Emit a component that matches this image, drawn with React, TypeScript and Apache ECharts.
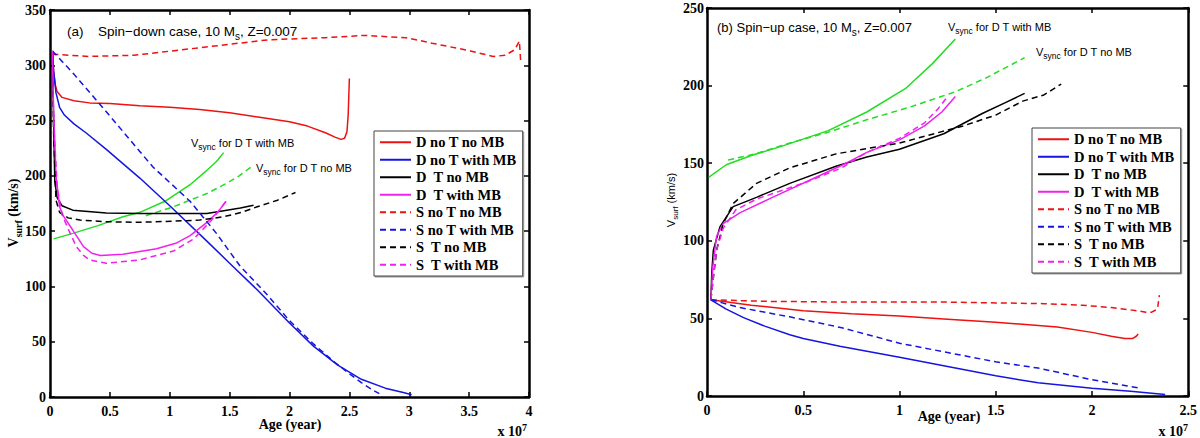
import React, { useRef, useEffect } from 'react'
import * as echarts from 'echarts'

// ages are in units of 1e7 yr, velocities in km/s

// ---- panel (a): spin-down case ----
const aDnoTnoMB = [[0.02,313],[0.03,295],[0.045,282],[0.06,276],[0.1,271],[0.2,268],[0.33,266],[0.5,265.5],[0.75,263.5],[1.0,262],[1.25,260],[1.5,257],[1.75,253],[2.0,249],[2.15,245],[2.3,239],[2.38,235],[2.43,233],[2.46,234],[2.48,240],[2.49,255],[2.5,288]]
const aDnoTwithMB = [[0.02,313],[0.03,295],[0.05,275],[0.08,262],[0.12,255],[0.2,247],[0.3,239],[0.47,224],[0.75,198],[1.0,173],[1.31,141],[1.5,121],[1.73,97],[2.0,67],[2.2,46],[2.4,29],[2.6,16],[2.8,8],[2.95,4],[3.02,2]]
const aDTnoMB = [[0.02,313],[0.03,250],[0.04,195],[0.06,180],[0.1,173],[0.19,169],[0.47,166.5],[0.75,166],[1.0,166],[1.31,166],[1.45,168.5],[1.59,171],[1.7,173.5]]
const aDTwithMB = [[0.02,313],[0.03,260],[0.05,200],[0.08,172],[0.11,164],[0.19,151],[0.28,136],[0.35,130],[0.42,128],[0.61,129],[0.89,134],[1.05,139],[1.17,146],[1.3,157],[1.4,167],[1.47,177]]
const aSnoTnoMB = [[0.02,310],[0.32,308],[0.7,309],[1.02,313],[1.5,319],[1.82,323],[2.3,325],[2.62,327],[2.97,325],[3.19,320],[3.51,313],[3.7,308],[3.8,309],[3.88,314],[3.92,322],[3.93,304]]
const aSnoTwithMB = [[0.02,313],[0.2,292],[0.47,258],[0.75,222],[0.86,208],[1.17,177],[1.39,148],[1.59,118],[1.81,93],[2.0,69],[2.2,48],[2.36,33],[2.5,21],[2.6,13],[2.7,6],[2.75,3]]
const aSTnoMB = [[0.02,313],[0.03,240],[0.05,178],[0.08,167],[0.15,162],[0.25,160],[0.47,158.5],[0.75,158],[1.03,159],[1.25,160],[1.45,163],[1.6,167],[1.73,172],[1.9,178],[2.05,185]]
const aSTwithMB = [[0.02,313],[0.03,250],[0.06,190],[0.1,165],[0.16,150],[0.22,136],[0.28,128],[0.33,124],[0.47,121],[0.75,124],[1.03,132],[1.2,143],[1.35,160],[1.47,177]]
const aVsyncWithMB = [[0.03,143],[0.19,148],[0.4,155],[0.61,163],[0.75,167],[0.96,177],[1.17,192],[1.3,204],[1.39,213],[1.45,221]]
const aVsyncNoMB = [[0.8,164],[1.03,172],[1.31,184],[1.47,193],[1.58,200],[1.68,208]]

// ---- panel (b): spin-up case ----
const bDnoTnoMB = [[0.02,62],[0.23,58.5],[0.5,55],[0.75,53],[1.0,51.5],[1.25,49.5],[1.5,47.5],[1.82,44.5],[2.0,41],[2.1,38.5],[2.17,37],[2.21,37],[2.23,38.5],[2.24,40]]
const bDnoTwithMB = [[0.02,62],[0.1,56],[0.19,50.5],[0.3,45],[0.43,39.5],[0.5,37],[0.69,32],[1.0,25],[1.25,19],[1.5,13],[1.72,8.5],[2.0,5],[2.2,3],[2.38,1]]
const bDTnoMB = [[0.02,62],[0.025,80],[0.033,94],[0.067,109],[0.136,122],[0.257,128],[0.43,137],[0.67,148],[0.83,154],[1.0,159],[1.23,169],[1.43,182],[1.55,189],[1.65,195]]
const bDTwithMB = [[0.02,62],[0.03,83],[0.05,103],[0.084,111],[0.17,118],[0.34,128],[0.55,140],[0.69,148],[0.83,157],[1.0,165],[1.13,174],[1.22,183],[1.29,193]]
const bSnoTnoMB = [[0.02,62],[0.3,61],[0.75,60.5],[1.25,60.5],[1.5,60],[1.75,59.5],[1.95,58.5],[2.1,57],[2.2,55.5],[2.28,54],[2.31,54],[2.34,56],[2.35,65]]
const bSnoTwithMB = [[0.02,62],[0.17,57],[0.43,51],[0.7,44],[1.0,34],[1.25,28],[1.5,22],[1.72,18],[2.0,10.5],[2.25,5]]
const bSTnoMB = [[0.02,62],[0.03,73],[0.05,94],[0.084,111],[0.136,124],[0.257,137],[0.43,147],[0.67,156],[1.0,163],[1.33,174],[1.5,181],[1.64,190],[1.75,194],[1.84,201]]
const bSTwithMB = [[0.02,62],[0.03,73],[0.05,94],[0.084,108],[0.15,120],[0.26,127],[0.52,138],[0.7,147],[0.83,157],[1.0,166],[1.13,176],[1.2,185],[1.25,193]]
const bVsyncWithMB = [[0.01,141],[0.1,149],[0.23,155],[0.39,161],[0.63,171],[0.83,183],[1.03,198],[1.17,214],[1.29,230]]
const bVsyncNoMB = [[0.11,152],[0.25,156],[0.43,163],[0.63,170],[0.83,178],[1.05,186],[1.29,196],[1.45,205],[1.62,216],[1.65,218]]

const legendNames = ['D no T no MB', 'D no T with MB', 'D  T no MB', 'D  T with MB', 'S no T no MB', 'S no T with MB', 'S  T no MB', 'S  T with MB']

const SERIF = "'Liberation Serif', 'Times New Roman', serif"
const SANS = "'Liberation Sans', Arial, sans-serif"
const RED = '#ee1111'
const BLUE = '#1515e0'
const BLACK = '#000000'
const MAGENTA = '#ee22ee'
const GREEN = '#22dd22'

function line(name, data, color, dashed, idx) {
  return {
    name,
    type: 'line',
    data,
    xAxisIndex: idx,
    yAxisIndex: idx,
    symbol: 'none',
    silent: true,
    lineStyle: { color, width: 1.5, type: dashed ? [6, 4] : 'solid' },
    itemStyle: { color },
  }
}

function axis(extra) {
  return {
    type: 'value',
    axisLine: { show: true, onZero: false, lineStyle: { color: '#000', width: 2.5 } },
    axisTick: { show: true, inside: true, length: 5, lineStyle: { color: '#000', width: 1.5 } },
    splitLine: { show: false },
    axisLabel: { color: '#000', fontFamily: SERIF, fontWeight: 'bold', fontSize: 14 },
    ...extra,
  }
}

function legend(left, top) {
  return {
    data: legendNames,
    orient: 'vertical',
    left,
    top,
    itemWidth: 31,
    itemHeight: 10,
    itemGap: 1,
    padding: [3, 6, 3, 5],
    backgroundColor: '#fff',
    borderColor: '#444',
    borderWidth: 1,
    shadowColor: 'rgba(0,0,0,0.4)',
    shadowOffsetX: 1,
    shadowOffsetY: 1,
    selectedMode: false,
    itemStyle: { opacity: 0 },
    textStyle: { fontFamily: SERIF, fontWeight: 'bold', fontSize: 14.5, color: '#000', lineHeight: 16.5 },
  }
}

const sub = { fontSize: 8.5, lineHeight: 8, verticalAlign: 'bottom' }

function note(x, y, text) {
  return {
    type: 'text',
    x,
    y,
    style: {
      text,
      verticalAlign: 'middle',
      fill: '#000',
      fontFamily: SANS,
      fontSize: 11,
      rich: { n: { fontFamily: SANS, fontSize: 11, lineHeight: 16 }, s: { ...sub, fontFamily: SANS } },
    },
  }
}

function titleText(x, y, text, size) {
  return {
    type: 'text',
    x,
    y,
    style: {
      text,
      verticalAlign: 'middle',
      fill: '#000',
      rich: { n: { fontFamily: SANS, fontSize: size, lineHeight: 20 }, s: { fontFamily: SANS, fontSize: 10, lineHeight: 9, verticalAlign: 'bottom' } },
    },
  }
}

function SpinChart() {
  const chartRef = useRef(null)

  useEffect(() => {
    document.body.style.margin = '0'
    const chart = echarts.init(chartRef.current, null, { renderer: 'svg' })

    const labelStyle = axis({}).axisLabel
    const option = {
      animation: false,
      backgroundColor: '#fff',
      grid: [
        { left: 50, top: 10, width: 479, height: 387 },
        { left: 707, top: 8, width: 484, height: 388 },
      ],
      xAxis: [
        axis({ gridIndex: 0, min: 0, max: 4, interval: 0.5, axisLabel: { ...labelStyle, margin: 7 } }),
        axis({ gridIndex: 0, min: 0, max: 4, interval: 0.5, position: 'top', axisLabel: { show: false } }),
        axis({ gridIndex: 1, min: 0, max: 2.5, interval: 0.5, axisLabel: { ...labelStyle, margin: 7 } }),
        axis({ gridIndex: 1, min: 0, max: 2.5, interval: 0.5, position: 'top', axisLabel: { show: false } }),
      ],
      yAxis: [
        axis({ gridIndex: 0, min: 0, max: 350, interval: 50, axisLabel: { ...labelStyle, margin: 4 } }),
        axis({ gridIndex: 0, min: 0, max: 350, interval: 50, position: 'right', axisLabel: { show: false } }),
        axis({ gridIndex: 1, min: 0, max: 250, interval: 50, axisLabel: { ...labelStyle, margin: 3 } }),
        axis({ gridIndex: 1, min: 0, max: 250, interval: 50, position: 'right', axisLabel: { show: false } }),
      ],
      legend: [legend(374, 131), legend(1032, 128)],
      series: [
        line('Vsync for D T with MB (a)', aVsyncWithMB, GREEN, false, 0),
        line('Vsync for D T no MB (a)', aVsyncNoMB, GREEN, true, 0),
        line(legendNames[0], aDnoTnoMB, RED, false, 0),
        line(legendNames[1], aDnoTwithMB, BLUE, false, 0),
        line(legendNames[2], aDTnoMB, BLACK, false, 0),
        line(legendNames[3], aDTwithMB, MAGENTA, false, 0),
        line(legendNames[4], aSnoTnoMB, RED, true, 0),
        line(legendNames[5], aSnoTwithMB, BLUE, true, 0),
        line(legendNames[6], aSTnoMB, BLACK, true, 0),
        line(legendNames[7], aSTwithMB, MAGENTA, true, 0),

        line('Vsync for D T with MB (b)', bVsyncWithMB, GREEN, false, 2),
        line('Vsync for D T no MB (b)', bVsyncNoMB, GREEN, true, 2),
        line(legendNames[0], bDnoTnoMB, RED, false, 2),
        line(legendNames[1], bDnoTwithMB, BLUE, false, 2),
        line(legendNames[2], bDTnoMB, BLACK, false, 2),
        line(legendNames[3], bDTwithMB, MAGENTA, false, 2),
        line(legendNames[4], bSnoTnoMB, RED, true, 2),
        line(legendNames[5], bSnoTwithMB, BLUE, true, 2),
        line(legendNames[6], bSTnoMB, BLACK, true, 2),
        line(legendNames[7], bSTwithMB, MAGENTA, true, 2),
      ],
      graphic: [
        // panel titles
        { type: 'text', x: 67, y: 31, style: { text: '(a)', verticalAlign: 'middle', fill: '#000', fontFamily: SANS, fontSize: 13.5 } },
        titleText(98, 31, '{n|Spin−down case, 10 M}{s|s}{n|, Z=0.007}', 13.5),
        titleText(717, 27, '{n|(b) Spin−up case, 10 M}{s|s}{n|, Z=0.007}', 13),
        // Vsync notes
        note(191, 143, '{n|V}{s|sync}{n| for D T with MB}'),
        note(256, 168, '{n|V}{s|sync}{n| for D T no MB}'),
        note(948, 27, '{n|V}{s|sync}{n| for D T with MB}'),
        note(1036, 52, '{n|V}{s|sync}{n| for D T no MB}'),
        // axis names
        { type: 'text', x: 290, y: 424, style: { text: 'Age (year)', align: 'center', verticalAlign: 'middle', fill: '#000', fontFamily: SERIF, fontWeight: 'bold', fontSize: 14 } },
        { type: 'text', x: 949, y: 416, style: { text: 'Age (year)', align: 'center', verticalAlign: 'middle', fill: '#000', fontFamily: SERIF, fontWeight: 'bold', fontSize: 14 } },
        {
          type: 'text', x: 527, y: 431,
          style: {
            text: '{b|x 10}{p|7}', align: 'right', verticalAlign: 'middle', fill: '#000',
            rich: { b: { fontFamily: SERIF, fontWeight: 'bold', fontSize: 14, lineHeight: 18 }, p: { fontFamily: SERIF, fontWeight: 'bold', fontSize: 10, lineHeight: 8, verticalAlign: 'top' } },
          },
        },
        {
          type: 'text', x: 1188, y: 431,
          style: {
            text: '{b|x 10}{p|7}', align: 'right', verticalAlign: 'middle', fill: '#000',
            rich: { b: { fontFamily: SERIF, fontWeight: 'bold', fontSize: 14, lineHeight: 18 }, p: { fontFamily: SERIF, fontWeight: 'bold', fontSize: 10, lineHeight: 8, verticalAlign: 'top' } },
          },
        },
        {
          type: 'text', x: 13, y: 213, rotation: Math.PI / 2,
          style: {
            text: '{n|V}{s|surf}{n| (km/s)}', align: 'center', verticalAlign: 'middle', fill: '#000',
            rich: { n: { fontFamily: SERIF, fontWeight: 'bold', fontSize: 14, lineHeight: 20 }, s: { fontFamily: SERIF, fontWeight: 'bold', fontSize: 10, lineHeight: 9, verticalAlign: 'bottom' } },
          },
        },
        {
          type: 'text', x: 671, y: 200, rotation: Math.PI / 2,
          style: {
            text: '{n|V}{s|surf}{n| (km/s)}', align: 'center', verticalAlign: 'middle', fill: '#000',
            rich: { n: { fontFamily: SANS, fontSize: 11, lineHeight: 16 }, s: { fontFamily: SANS, fontSize: 8, lineHeight: 7, verticalAlign: 'bottom' } },
          },
        },
      ],
    }

    chart.setOption(option)

    return () => {
      chart.dispose()
    }
  }, [])

  return <div ref={chartRef} style={{ width: 1200, height: 438 }}></div>
}

export default function App() {
  return <SpinChart />
}
